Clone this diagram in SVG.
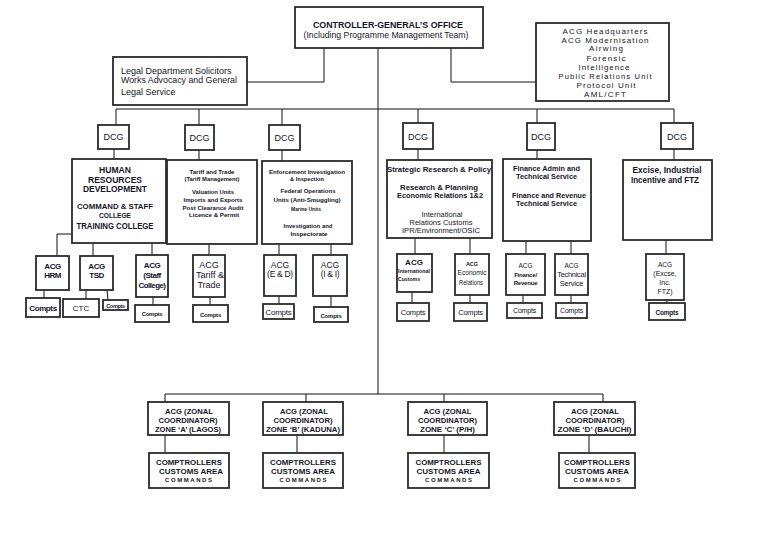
<svg xmlns="http://www.w3.org/2000/svg" width="773" height="542" viewBox="0 0 773 542">
<style>
.bg{fill:#fff}
.box{fill:#fff;stroke:#2b2b2b;stroke-width:1.8}
.ln{stroke:#111;stroke-width:1;fill:none}
text{font-family:"Liberation Sans",Arial,sans-serif;fill:#15152a;text-anchor:middle}
.b{font-weight:bold}
.l{text-anchor:start}
</style>
<rect class="bg" x="0" y="0" width="773" height="542"/>
<g id="connectors">
<path class="ln" d="M324,48 V82 H247"/>
<path class="ln" d="M451,48 V82 H536"/>
<path class="ln" d="M378,48 V394"/>
<path class="ln" d="M116,109 H674 M116,109 V125 M199,109 V125 M282,109 V125 M418,109 V123 M537,109 V123 M674,109 V123"/>
<path class="ln" d="M114,149 V159 M199,150 V160 M282,150 V161 M418,149 V160 M537,150 V159 M674,149 V160"/>
<path class="ln" d="M72,234 H57 V256 M93,243 V256 M152,243 V255"/>
<path class="ln" d="M44,290 V298 M86,290 V299 M107,290 L108,300 M153,297 V305"/>
<path class="ln" d="M209,244 V255 M210,297 V305"/>
<path class="ln" d="M279,244 V255 M331,244 V255 M279,296 V304 M331,296 V307"/>
<path class="ln" d="M415,238 V254 M470,238 V254 M412,292 V303 M470,295 V303"/>
<path class="ln" d="M526,241 V254 M571,241 V254 M523,295 V303 M571,295 V303"/>
<path class="ln" d="M666,240 V254 M667,300 V303"/>
<path class="ln" d="M165,394 H603 M165,394 V402 M306,394 V402 M444,394 V402 M603,394 V402"/>
<path class="ln" d="M165,435 V453 M297,435 V453 M444,435 V453 M589,435 V453"/>
</g>
<g id="controller">
<rect class="box" x="295" y="7" width="188" height="41"/>
<text class="b" x="388" y="28" font-size="8.5" textLength="150" lengthAdjust="spacingAndGlyphs">CONTROLLER-GENERAL’S OFFICE</text>
<text x="386" y="37.5" font-size="8.5" textLength="165" lengthAdjust="spacingAndGlyphs">(Including Programme Management Team)</text>
</g>
<g id="hq-units" font-size="8">
<rect class="box" x="536" y="23" width="133" height="78"/>
<text x="605" y="34" textLength="85" lengthAdjust="spacing">ACG Headquarters</text>
<text x="605" y="43" textLength="87" lengthAdjust="spacing">ACG Modernisation</text>
<text x="606" y="51" textLength="34" lengthAdjust="spacing">Airwing</text>
<text x="606" y="61" textLength="39" lengthAdjust="spacing">Forensic</text>
<text x="604" y="70" textLength="51" lengthAdjust="spacing">Intelligence</text>
<text x="605" y="79" font-size="7.5" textLength="93" lengthAdjust="spacing">Public Relations Unit</text>
<text x="606" y="88" textLength="59" lengthAdjust="spacing">Protocol Unit</text>
<text x="605" y="97" textLength="42" lengthAdjust="spacing">AML/CFT</text>
</g>
<g id="legal" font-size="9">
<rect class="box" x="113" y="57" width="134" height="48"/>
<text class="l" x="121" y="74">Legal Department Solicitors</text>
<text class="l" x="121" y="83" textLength="116" lengthAdjust="spacingAndGlyphs">Works Advocacy and General</text>
<text class="l" x="121" y="95">Legal Service</text>
</g>
<g id="dcg1"><rect class="box" x="98" y="125" width="31" height="24"/><text x="113.5" y="140" font-size="9">DCG</text></g>
<g id="dcg2"><rect class="box" x="185" y="125" width="29" height="25"/><text x="199.5" y="140.5" font-size="9">DCG</text></g>
<g id="dcg3"><rect class="box" x="269" y="125" width="31" height="25"/><text x="284.5" y="140.5" font-size="9">DCG</text></g>
<g id="dcg4"><rect class="box" x="403" y="123" width="30" height="26"/><text x="418" y="139.5" font-size="9">DCG</text></g>
<g id="dcg5"><rect class="box" x="527" y="123" width="28" height="27"/><text x="541" y="140" font-size="9">DCG</text></g>
<g id="dcg6"><rect class="box" x="661" y="123" width="32" height="26"/><text x="677" y="139.5" font-size="9">DCG</text></g>
<g id="hr" class="b" font-size="8.5">
<rect class="box" x="72" y="159" width="94" height="84"/>
<text class="b" x="115" y="173" textLength="32" lengthAdjust="spacingAndGlyphs">HUMAN</text>
<text class="b" x="115" y="183" textLength="54" lengthAdjust="spacingAndGlyphs">RESOURCES</text>
<text class="b" x="115" y="192" textLength="64" lengthAdjust="spacingAndGlyphs">DEVELOPMENT</text>
<text class="b" x="115" y="209" font-size="8" textLength="76" lengthAdjust="spacingAndGlyphs">COMMAND &amp; STAFF</text>
<text class="b" x="115" y="217.5" font-size="8" textLength="32" lengthAdjust="spacingAndGlyphs">COLLEGE</text>
<text class="b" x="115" y="229" textLength="77" lengthAdjust="spacingAndGlyphs">TRAINING COLLEGE</text>
</g>
<g id="acg-hrm"><rect class="box" x="36" y="256" width="33" height="34"/><text class="b" x="52.5" y="269" font-size="8" letter-spacing="-0.5">ACG</text><text class="b" x="52.5" y="278" font-size="8" letter-spacing="-0.5">HRM</text></g>
<g id="acg-tsd"><rect class="box" x="80" y="256" width="33" height="34"/><text class="b" x="96.5" y="269" font-size="8" letter-spacing="-0.5">ACG</text><text class="b" x="96.5" y="278" font-size="8" letter-spacing="-0.5">TSD</text></g>
<g id="acg-staff"><rect class="box" x="136" y="255" width="32" height="42"/><text class="b" x="152" y="268" font-size="8" letter-spacing="-0.5">ACG</text><text class="b" x="152" y="278" font-size="8" letter-spacing="-0.5">(Staff</text><text class="b" x="152" y="288" font-size="8" letter-spacing="-0.6">College)</text></g>
<g id="compts-hrm"><rect class="box" x="26" y="298" width="34" height="19"/><text class="b" x="43" y="310.5" font-size="8" letter-spacing="-0.4">Compts</text></g>
<g id="ctc"><rect class="box" x="63" y="299" width="36" height="18"/><text x="81" y="311" font-size="8">CTC</text></g>
<g id="compts-tsd"><rect class="box" x="103" y="300" width="25" height="10"/><text class="b" x="115.5" y="307.5" font-size="5.5" letter-spacing="-0.3">Compts</text></g>
<g id="compts-staff"><rect class="box" x="135" y="305" width="34" height="17"/><text class="b" x="152" y="316" font-size="6" letter-spacing="-0.3">Compts</text></g>
<g id="tariff" font-size="6">
<rect class="box" x="167" y="160" width="90" height="84"/>
<text class="b" x="212" y="174" textLength="45" lengthAdjust="spacingAndGlyphs">Tariff and Trade</text>
<text class="b" x="212" y="181" textLength="55" lengthAdjust="spacingAndGlyphs">(Tariff Management)</text>
<text class="b" x="213" y="194" textLength="42" lengthAdjust="spacingAndGlyphs">Valuation Units</text>
<text class="b" x="213" y="202" textLength="59" lengthAdjust="spacingAndGlyphs">Imports and Exports</text>
<text class="b" x="213" y="210" textLength="61" lengthAdjust="spacingAndGlyphs">Post Clearance Audit</text>
<text class="b" x="214" y="217" textLength="50" lengthAdjust="spacingAndGlyphs">Licence &amp; Permit</text>
</g>
<g id="acg-tariff" font-size="9"><rect class="box" x="193" y="255" width="32" height="42"/><text x="209" y="268">ACG</text><text x="210" y="278">Tariff &amp;</text><text x="209" y="288">Trade</text></g>
<g id="compts-tariff"><rect class="box" x="193" y="305" width="35" height="17"/><text class="b" x="210.5" y="316.5" font-size="6" letter-spacing="-0.2">Compts</text></g>
<g id="enforcement" font-size="6">
<rect class="box" x="262" y="161" width="90" height="83"/>
<text class="b" x="307" y="174" textLength="76" lengthAdjust="spacingAndGlyphs">Enforcement Investigation</text>
<text class="b" x="307" y="181" textLength="34" lengthAdjust="spacingAndGlyphs">&amp; Inspection</text>
<text class="b" x="308" y="193" textLength="55" lengthAdjust="spacingAndGlyphs">Federal Operations</text>
<text class="b" x="307" y="202" textLength="67" lengthAdjust="spacingAndGlyphs">Units (Anti-Smuggling)</text>
<text class="b" x="306" y="211" font-size="5" textLength="30" lengthAdjust="spacingAndGlyphs">Marine Units</text>
<text class="b" x="308" y="228" textLength="49" lengthAdjust="spacingAndGlyphs">Investigation and</text>
<text class="b" x="309" y="236" textLength="37" lengthAdjust="spacingAndGlyphs">Inspectorate</text>
</g>
<g id="acg-ed" font-size="8.5"><rect class="box" x="264" y="255" width="32" height="41"/><text x="280" y="268">ACG</text><text x="280" y="277" letter-spacing="-0.3">(E &amp; D)</text></g>
<g id="acg-ii" font-size="8.5"><rect class="box" x="313" y="255" width="34" height="41"/><text x="330" y="268">ACG</text><text x="330" y="277" letter-spacing="-0.3">(I &amp; I)</text></g>
<g id="compts-ed"><rect class="box" x="263" y="304" width="31" height="15"/><text x="278.5" y="314.5" font-size="8" letter-spacing="-0.3">Compts</text></g>
<g id="compts-ii"><rect class="box" x="314" y="307" width="34" height="15"/><text class="b" x="331" y="317.5" font-size="6" letter-spacing="-0.2">Compts</text></g>
<g id="strategic">
<rect class="box" x="387" y="160" width="105" height="78"/>
<text class="b" x="439" y="172" font-size="7" textLength="104" lengthAdjust="spacingAndGlyphs">Strategic Research &amp; Policy</text>
<text class="b" x="439" y="190" font-size="7.5" textLength="78" lengthAdjust="spacingAndGlyphs">Research &amp; Planning</text>
<text class="b" x="440" y="198" font-size="7.5" textLength="86" lengthAdjust="spacingAndGlyphs">Economic Relations 1&amp;2</text>
<text x="442" y="217" font-size="7.5" textLength="41" lengthAdjust="spacingAndGlyphs">International</text>
<text x="441" y="225" font-size="7.5" textLength="63" lengthAdjust="spacingAndGlyphs">Relations Customs</text>
<text x="441" y="233" font-size="7.5" textLength="78" lengthAdjust="spacingAndGlyphs">IPR/Environment/OSIC</text>
</g>
<g id="acg-intl"><rect class="box" x="397" y="254" width="35" height="38"/><text class="b" x="414" y="265" font-size="8">ACG</text><text class="b l" x="398" y="273" font-size="4.5" textLength="32" lengthAdjust="spacingAndGlyphs">International</text><text class="b l" x="398" y="281" font-size="4.5" textLength="22" lengthAdjust="spacingAndGlyphs">Customs</text></g>
<g id="acg-econ"><rect class="box" x="455" y="254" width="34" height="41"/><text class="b" x="472" y="266" font-size="5.5">ACG</text><text x="472" y="275" font-size="7" textLength="29" lengthAdjust="spacingAndGlyphs">Economic</text><text x="471" y="285" font-size="7" textLength="24" lengthAdjust="spacingAndGlyphs">Relations</text></g>
<g id="compts-intl"><rect class="box" x="397" y="303" width="32" height="18"/><text x="413" y="314.5" font-size="7.5" letter-spacing="-0.2">Compts</text></g>
<g id="compts-econ"><rect class="box" x="454" y="303" width="33" height="18"/><text x="470.5" y="314.5" font-size="7.5" letter-spacing="-0.2">Compts</text></g>
<g id="finance" font-size="7">
<rect class="box" x="503" y="159" width="88" height="82"/>
<text class="b" x="546.5" y="171" textLength="67" lengthAdjust="spacingAndGlyphs">Finance Admin and</text>
<text class="b" x="546.5" y="179" textLength="61" lengthAdjust="spacingAndGlyphs">Technical Service</text>
<text class="b" x="549" y="198" textLength="74" lengthAdjust="spacingAndGlyphs">Finance and Revenue</text>
<text class="b" x="546.5" y="206" textLength="61" lengthAdjust="spacingAndGlyphs">Technical Service</text>
</g>
<g id="acg-fin"><rect class="box" x="506" y="254" width="39" height="41"/><text x="525.5" y="268" font-size="6.5">ACG</text><text class="b" x="525.5" y="276.5" font-size="6" letter-spacing="-0.2">Finance/</text><text class="b" x="525.5" y="284.5" font-size="6" letter-spacing="-0.2">Revenue</text></g>
<g id="acg-tech"><rect class="box" x="555" y="254" width="33" height="41"/><text x="571.5" y="268" font-size="6.5">ACG</text><text x="571.5" y="277" font-size="7.5" letter-spacing="-0.3">Technical</text><text x="571.5" y="286" font-size="7.5" letter-spacing="-0.2">Service</text></g>
<g id="compts-fin"><rect class="box" x="507" y="303" width="35" height="15"/><text x="524.5" y="313" font-size="7" letter-spacing="-0.2">Compts</text></g>
<g id="compts-tech"><rect class="box" x="556" y="303" width="31" height="15"/><text x="571.5" y="313" font-size="7" letter-spacing="-0.2">Compts</text></g>
<g id="excise">
<rect class="box" x="623" y="160" width="89" height="80"/>
<text class="b" x="667" y="173" font-size="8.5" textLength="69" lengthAdjust="spacingAndGlyphs">Excise, Industrial</text>
<text class="b" x="665" y="183" font-size="8.5" textLength="68" lengthAdjust="spacingAndGlyphs">Incentive and FTZ</text>
</g>
<g id="acg-excise"><rect class="box" x="646" y="254" width="38" height="46"/><text x="665" y="267" font-size="6.5">ACG</text><text x="665" y="276" font-size="7">(Excse,</text><text x="665" y="285" font-size="7">Inc.</text><text x="665" y="294" font-size="7">FTZ)</text></g>
<g id="compts-excise"><rect class="box" x="649" y="303" width="36" height="17"/><text class="b" x="667" y="314.5" font-size="6.5" letter-spacing="-0.2">Compts</text></g>
<g id="zone-a" font-size="7">
<rect class="box" x="148" y="402" width="81" height="33"/>
<text class="b" x="189" y="414" textLength="48" lengthAdjust="spacingAndGlyphs">ACG (ZONAL</text>
<text class="b" x="188" y="423" textLength="59" lengthAdjust="spacingAndGlyphs">COORDINATOR)</text>
<text class="b" x="188" y="431.5" textLength="66" lengthAdjust="spacingAndGlyphs">ZONE ‘A’ (LAGOS)</text>
</g>
<g id="zone-b" font-size="7">
<rect class="box" x="263" y="402" width="80" height="33"/>
<text class="b" x="304" y="414" textLength="48" lengthAdjust="spacingAndGlyphs">ACG (ZONAL</text>
<text class="b" x="303" y="423" textLength="59" lengthAdjust="spacingAndGlyphs">COORDINATOR)</text>
<text class="b" x="303" y="431.5" textLength="74" lengthAdjust="spacingAndGlyphs">ZONE ‘B’ (KADUNA)</text>
</g>
<g id="zone-c" font-size="7">
<rect class="box" x="408" y="402" width="79" height="33"/>
<text class="b" x="447.5" y="414" textLength="48" lengthAdjust="spacingAndGlyphs">ACG (ZONAL</text>
<text class="b" x="447.5" y="423" textLength="59" lengthAdjust="spacingAndGlyphs">COORDINATOR)</text>
<text class="b" x="447.5" y="431.5" textLength="55" lengthAdjust="spacingAndGlyphs">ZONE ‘C’ (P/H)</text>
</g>
<g id="zone-d" font-size="7">
<rect class="box" x="554" y="402" width="81" height="33"/>
<text class="b" x="595" y="414" textLength="48" lengthAdjust="spacingAndGlyphs">ACG (ZONAL</text>
<text class="b" x="595" y="423" textLength="59" lengthAdjust="spacingAndGlyphs">COORDINATOR)</text>
<text class="b" x="594.5" y="431.5" textLength="74" lengthAdjust="spacingAndGlyphs">ZONE ‘D’ (BAUCHI)</text>
</g>
<g id="comptrollers-a" font-size="7.5">
<rect class="box" x="149" y="453" width="80" height="35"/>
<text class="b" x="189" y="465" textLength="66" lengthAdjust="spacingAndGlyphs">COMPTROLLERS</text>
<text class="b" x="191" y="474" textLength="64" lengthAdjust="spacingAndGlyphs">CUSTOMS AREA</text>
<text class="b" x="188.5" y="481.5" font-size="6" textLength="47" lengthAdjust="spacing">COMMANDS</text>
</g>
<g id="comptrollers-b" font-size="7.5">
<rect class="box" x="263" y="453" width="80" height="35"/>
<text class="b" x="303" y="465" textLength="66" lengthAdjust="spacingAndGlyphs">COMPTROLLERS</text>
<text class="b" x="303" y="474" textLength="64" lengthAdjust="spacingAndGlyphs">CUSTOMS AREA</text>
<text class="b" x="303" y="481.5" font-size="6" textLength="47" lengthAdjust="spacing">COMMANDS</text>
</g>
<g id="comptrollers-c" font-size="7.5">
<rect class="box" x="408" y="453" width="81" height="35"/>
<text class="b" x="448.5" y="465" textLength="66" lengthAdjust="spacingAndGlyphs">COMPTROLLERS</text>
<text class="b" x="448.5" y="474" textLength="64" lengthAdjust="spacingAndGlyphs">CUSTOMS AREA</text>
<text class="b" x="448.5" y="481.5" font-size="6" textLength="47" lengthAdjust="spacing">COMMANDS</text>
</g>
<g id="comptrollers-d" font-size="7.5">
<rect class="box" x="559" y="453" width="76" height="35"/>
<text class="b" x="597" y="465" textLength="66" lengthAdjust="spacingAndGlyphs">COMPTROLLERS</text>
<text class="b" x="597" y="474" textLength="64" lengthAdjust="spacingAndGlyphs">CUSTOMS AREA</text>
<text class="b" x="597" y="481.5" font-size="6" textLength="47" lengthAdjust="spacing">COMMANDS</text>
</g>
</svg>
